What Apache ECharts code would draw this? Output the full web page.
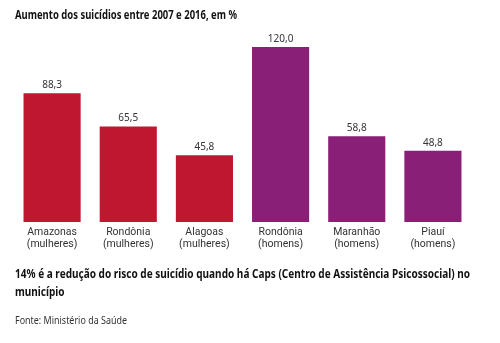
<!DOCTYPE html>
<html>
<head>
<meta charset="utf-8">
<script src="https://cdn.jsdelivr.net/npm/echarts@6/dist/echarts.min.js"></script>
<style>
  html, body { margin: 0; padding: 0; background: #fff; }
  #chart { width: 500px; height: 343px; }
</style>
</head>
<body>
<div id="chart"></div>
<script>
// Aumento dos suicídios por estado e sexo, 2007–2016 (%)
const categories = ['Amazonas\n(mulheres)', 'Rondônia\n(mulheres)', 'Alagoas\n(mulheres)',
                    'Rondônia\n(homens)', 'Maranhão\n(homens)', 'Piauí\n(homens)'];
const values = [88.3, 65.5, 45.8, 120.0, 58.8, 48.8];
const groups = ['mulheres', 'mulheres', 'mulheres', 'homens', 'homens', 'homens'];

const titleText = 'Aumento dos suicídios entre 2007 e 2016, em %';
const noteLines = ['14% é a redução do risco de suicídio quando há Caps (Centro de Assistência Psicossocial) no', 'município'];
const sourceText = 'Fonte: Ministério da Saúde';

const groupColors = { mulheres: '#BF172F', homens: '#891F77' };
const FONT = '"Noto Sans", sans-serif';

// horizontal squeeze so a line of text occupies a given width (condensed look)
const measureCtx = document.createElement('canvas').getContext('2d');
function squeeze(text, font, width) {
  measureCtx.font = font;
  return width / measureCtx.measureText(text).width;
}

const titleFont = 'bold 12.5px ' + FONT;
const noteFont = 'bold 12.5px ' + FONT;
const sourceFont = '10.5px ' + FONT;

const chart = echarts.init(document.getElementById('chart'), null, { renderer: 'canvas' });

chart.setOption({
  animation: false,
  grid: { left: 14, right: 29, top: 47, bottom: 121, containLabel: false },
  xAxis: {
    type: 'category',
    data: categories,
    axisLine: { show: false },
    axisTick: { show: false },
    axisLabel: {
      interval: 0, margin: 4, lineHeight: 12,
      fontFamily: 'Roboto, sans-serif', fontSize: 10.5, color: '#333'
    }
  },
  yAxis: {
    type: 'value', min: 0, max: 120,
    show: false, splitLine: { show: false }
  },
  series: [{
    type: 'bar',
    barWidth: '75%',
    data: values.map((v, i) => ({
      value: v,
      itemStyle: { color: groupColors[groups[i]] }
    })),
    label: {
      show: true, position: 'top', distance: 3,
      fontFamily: FONT, fontSize: 10, color: '#333',
      formatter: p => p.value.toFixed(1).replace('.', ',')
    }
  }],
  graphic: [
    {
      type: 'text', x: 15, y: 9, scaleX: squeeze(titleText, titleFont, 222),
      style: { text: titleText, font: titleFont, fill: '#111' }
    },
    {
      type: 'text', x: 15, y: 265, scaleX: squeeze(noteLines[0], noteFont, 455),
      style: { text: noteLines.join('\n'), font: noteFont, lineHeight: 18, fill: '#111' }
    },
    {
      type: 'text', x: 15, y: 316, scaleX: squeeze(sourceText, sourceFont, 112),
      style: { text: sourceText, font: sourceFont, fill: '#333' }
    }
  ]
});
</script>
</body>
</html>
